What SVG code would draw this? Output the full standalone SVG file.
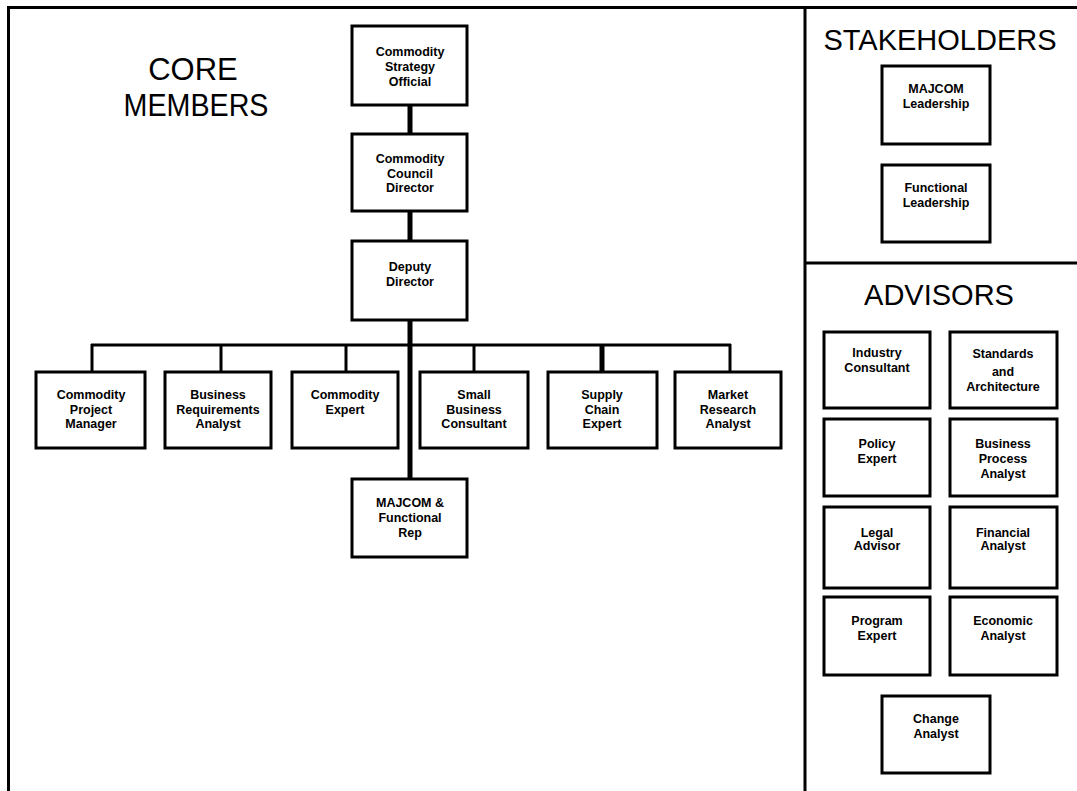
<svg xmlns="http://www.w3.org/2000/svg" width="1077" height="791" viewBox="0 0 1077 791">
<style>
.box{fill:#fff;stroke:#000;stroke-width:3}
.t{font-family:"Liberation Sans",Arial,sans-serif;font-weight:bold;font-size:12.5px;text-anchor:middle;fill:#000}
.h{font-family:"Liberation Sans",Arial,sans-serif;font-size:29px;text-anchor:middle;fill:#000}
.ln{stroke:#000;fill:none}
</style>
<rect width="1077" height="791" fill="#fff"/>
<g id="frame" class="ln">
<line x1="7" y1="7.5" x2="1077" y2="7.5" stroke-width="3"/>
<line x1="8.5" y1="6" x2="8.5" y2="791" stroke-width="3"/>
<line x1="805" y1="6" x2="805" y2="791" stroke-width="3"/>
<line x1="805" y1="263" x2="1077" y2="263" stroke-width="3"/>
</g>
<g id="titles">
<text class="h" x="193" y="80" style="font-size:31px">CORE</text>
<text class="h" x="196" y="116" style="font-size:31px" textLength="145" lengthAdjust="spacingAndGlyphs">MEMBERS</text>
<text class="h" x="940" y="50">STAKEHOLDERS</text>
<text class="h" x="939" y="305">ADVISORS</text>
</g>
<g id="connectors" class="ln">
<line x1="410" y1="105" x2="410" y2="134" stroke-width="5"/>
<line x1="410" y1="211" x2="410" y2="241" stroke-width="5"/>
<line x1="410" y1="320" x2="410" y2="479" stroke-width="5"/>
<line x1="91" y1="345" x2="731" y2="345" stroke-width="3"/>
<line x1="92" y1="344" x2="92" y2="372" stroke-width="3"/>
<line x1="221" y1="344" x2="221" y2="372" stroke-width="3"/>
<line x1="346" y1="344" x2="346" y2="372" stroke-width="3"/>
<line x1="474" y1="344" x2="474" y2="372" stroke-width="3"/>
<line x1="602" y1="344" x2="602" y2="372" stroke-width="5"/>
<line x1="730" y1="344" x2="730" y2="372" stroke-width="3"/>
</g>
<g id="n-strategy"><rect class="box" x="352" y="26" width="115" height="79"/><text class="t" x="410" y="56">Commodity</text><text class="t" x="410" y="71">Strategy</text><text class="t" x="410" y="86">Official</text></g>
<g id="n-council"><rect class="box" x="352" y="134" width="115" height="77"/><text class="t" x="410" y="163">Commodity</text><text class="t" x="410" y="178">Council</text><text class="t" x="410" y="192">Director</text></g>
<g id="n-deputy"><rect class="box" x="352" y="241" width="115" height="79"/><text class="t" x="410" y="271">Deputy</text><text class="t" x="410" y="286">Director</text></g>
<g id="n-cpm"><rect class="box" x="36" y="372" width="109" height="76"/><text class="t" x="91" y="399">Commodity</text><text class="t" x="91" y="414">Project</text><text class="t" x="91" y="428">Manager</text></g>
<g id="n-bra"><rect class="box" x="165" y="372" width="106" height="76"/><text class="t" x="218" y="399">Business</text><text class="t" x="218" y="414">Requirements</text><text class="t" x="218" y="428">Analyst</text></g>
<g id="n-ce"><rect class="box" x="292" y="372" width="106" height="76"/><text class="t" x="345" y="399">Commodity</text><text class="t" x="345" y="414">Expert</text></g>
<g id="n-sbc"><rect class="box" x="420" y="372" width="108" height="76"/><text class="t" x="474" y="399">Small</text><text class="t" x="474" y="414">Business</text><text class="t" x="474" y="428">Consultant</text></g>
<g id="n-sce"><rect class="box" x="548" y="372" width="109" height="76"/><text class="t" x="602" y="399">Supply</text><text class="t" x="602" y="414">Chain</text><text class="t" x="602" y="428">Expert</text></g>
<g id="n-mra"><rect class="box" x="675" y="372" width="106" height="76"/><text class="t" x="728" y="399">Market</text><text class="t" x="728" y="414">Research</text><text class="t" x="728" y="428">Analyst</text></g>
<g id="n-rep"><rect class="box" x="352" y="479" width="115" height="78"/><text class="t" x="410" y="507">MAJCOM &amp;</text><text class="t" x="410" y="522">Functional</text><text class="t" x="410" y="537">Rep</text></g>
<g id="n-majlead"><rect class="box" x="882" y="66" width="108" height="78"/><text class="t" x="936" y="93">MAJCOM</text><text class="t" x="936" y="108">Leadership</text></g>
<g id="n-funclead"><rect class="box" x="882" y="165" width="108" height="77"/><text class="t" x="936" y="192">Functional</text><text class="t" x="936" y="207">Leadership</text></g>
<g id="n-ind"><rect class="box" x="824" y="332" width="106" height="76"/><text class="t" x="877" y="357">Industry</text><text class="t" x="877" y="372">Consultant</text></g>
<g id="n-std"><rect class="box" x="950" y="332" width="107" height="76"/><text class="t" x="1003" y="358">Standards</text><text class="t" x="1003" y="376">and</text><text class="t" x="1003" y="391">Architecture</text></g>
<g id="n-pol"><rect class="box" x="824" y="419" width="106" height="77"/><text class="t" x="877" y="448">Policy</text><text class="t" x="877" y="463">Expert</text></g>
<g id="n-bpa"><rect class="box" x="950" y="419" width="107" height="77"/><text class="t" x="1003" y="448">Business</text><text class="t" x="1003" y="463">Process</text><text class="t" x="1003" y="478">Analyst</text></g>
<g id="n-legal"><rect class="box" x="824" y="507" width="106" height="81"/><text class="t" x="877" y="537">Legal</text><text class="t" x="877" y="550">Advisor</text></g>
<g id="n-fin"><rect class="box" x="950" y="507" width="107" height="81"/><text class="t" x="1003" y="537">Financial</text><text class="t" x="1003" y="550">Analyst</text></g>
<g id="n-prog"><rect class="box" x="824" y="597" width="106" height="78"/><text class="t" x="877" y="625">Program</text><text class="t" x="877" y="640">Expert</text></g>
<g id="n-econ"><rect class="box" x="950" y="597" width="107" height="78"/><text class="t" x="1003" y="625">Economic</text><text class="t" x="1003" y="640">Analyst</text></g>
<g id="n-change"><rect class="box" x="882" y="696" width="108" height="77"/><text class="t" x="936" y="723">Change</text><text class="t" x="936" y="738">Analyst</text></g>
</svg>
